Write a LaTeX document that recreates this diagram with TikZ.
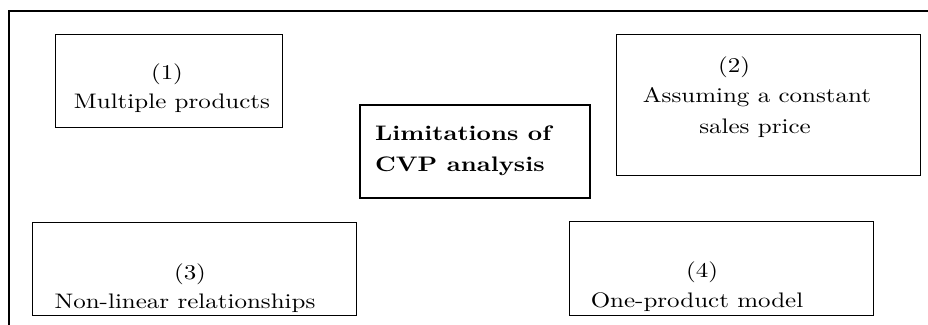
\documentclass[tikz,border=0pt]{standalone}
\usepackage{graphicx}
\usepackage{fontspec}
\setmainfont{lmroman10-regular.otf}[BoldFont=lmroman10-bold.otf]
\newcommand\wide[1]{\scalebox{1.19}[1]{#1}}
\tikzset{
  frame/.style={draw=black, line width=1.3pt},
  box/.style={draw=black, line width=1.4pt, inner sep=0pt, anchor=north west},
  txt/.style={font=\fontsize{21}{28}\selectfont, inner sep=0pt, anchor=base},
  txtl/.style={txt, anchor=base west},
}
\begin{document}
\begin{tikzpicture}[x=1pt, y=-1pt]
  \useasboundingbox (0,0) rectangle (928,324);
  \clip (0,0) rectangle (928,324);
  \fill[white] (0,0) rectangle (928,324);
  % outer frame, running past the right and bottom edges
  \draw[frame] (9,11) rectangle (945,345);

  % boxes
  \node[box, minimum width=227pt, minimum height=93pt] (b1) at (55,34) {};
  \node[box, line width=1.8pt, minimum width=230pt, minimum height=93pt] (bc) at (359,104) {};
  \node[box, minimum width=304pt, minimum height=141pt] (b2) at (616,34) {};
  \node[box, minimum width=324pt, minimum height=93pt] (b3) at (32,222) {};
  \node[box, minimum width=304pt, minimum height=94pt] (b4) at (569,221) {};

  % labels
  \node[txt] (n1a) at (167,79) {\wide{(1)}};
  \node[txt] (n1b) at (172,108) {\wide{Multiple products}};

  \node[txtl] (nca) at (375,140) {\wide{\bfseries Limitations of}};
  \node[txtl] (ncb) at (375,171) {\wide{\bfseries CVP analysis}};

  \node[txt] (n2a) at (734,72) {\wide{(2)}};
  \node[txt] (n2b) at (757,102) {\wide{Assuming a constant}};
  \node[txt] (n2c) at (755,133) {\wide{sales price}};

  \node[txt] (n3a) at (190,279) {\wide{(3)}};
  \node[txt] (n3b) at (185,308) {\wide{Non-linear relationships}};

  \node[txt] (n4a) at (702,277) {\wide{(4)}};
  \node[txt] (n4b) at (697,307) {\wide{One-product model}};
\end{tikzpicture}
\end{document}
